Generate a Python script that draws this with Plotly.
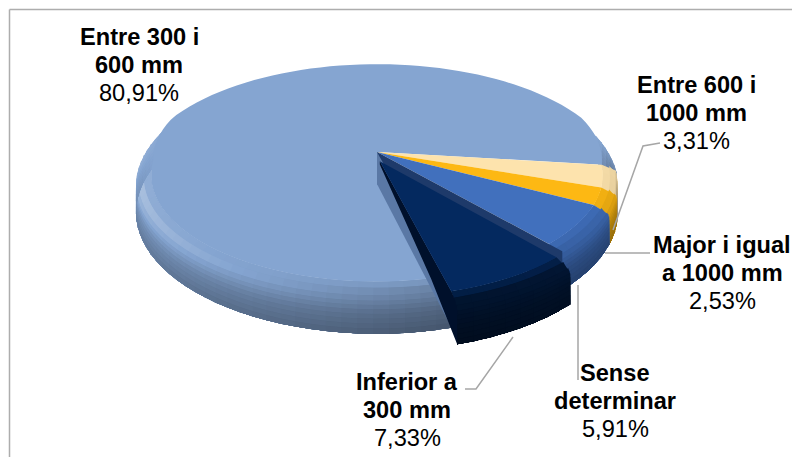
import math
import plotly.graph_objects as go

# ---- data ----
categories = ["Entre 600 i 1000 mm", "Major i igual a 1000 mm", "Sense determinar",
              "Inferior a 300 mm", "Entre 300 i 600 mm"]
values = [3.31, 2.53, 5.91, 7.33, 80.91]
label_lines = [["Entre 600 i", "1000 mm"], ["Major i igual", "a 1000 mm"], ["Sense", "determinar"],
               ["Inferior a", "300 mm"], ["Entre 300 i", "600 mm"]]
colors = ["#FDE3AD", "#FDB813", "#4170BD", "#04295F", "#85A5D1"]
explode = [0, 0, 0, 0.085, 0]
label_pos = [(696, 85), (722, 245), (615, 373), (407, 382), (139, 37)]
leaders = [[(613, 230), (643, 146), (660, 143)], [(605, 253), (650, 253)],
           [(578, 285), (578, 380)], [(513, 337), (476, 389), (465, 389)], []]
start_angle = 7.0
explode_dir = 82.0

# ---- projection of the tilted disc ----
X0, Y0, A, B, K, DEPTH = 377.0, 152.0, 234.6, 108.0, 0.23, 32.0


def proj(u, v, z=0.0):
    w = 1 - K * v
    return X0 + A * u / w, Y0 + B * v / w + DEPTH * z / w


def hex_rgb(c):
    return tuple(int(c[i:i + 2], 16) for i in (1, 3, 5))


def shade(c, f):
    r = hex_rgb(c)
    if f <= 1:
        o = [x * f for x in r]
    else:
        t = min(1, (f - 1) * 1.8)
        o = [x + (255 - x) * t for x in r]
    return "rgb(%d,%d,%d)" % tuple(int(max(0, min(255, x))) for x in o)


fig = go.Figure()


def poly(pts, color):
    fig.add_trace(go.Scatter(x=[p[0] for p in pts] + [pts[0][0]], y=[p[1] for p in pts] + [pts[0][1]],
                             mode="none", fill="toself", fillcolor=color,
                             hoverinfo="skip", showlegend=False))


BANDS = 10
R_IN = 0.94


def band_geom(t):
    r = R_IN + (1 - R_IN) * math.sin(math.pi / 2 * min(t / 0.3, 1))
    z = max(0.0, (t - 0.06) / 0.94) ** 1.15
    return r, z


def table(pts, x):
    for (x0, y0), (x1, y1) in zip(pts, pts[1:]):
        if x <= x1:
            return y0 + (y1 - y0) * (x - x0) / (x1 - x0)
    return pts[-1][1]


VERT = [(0, 1.0), (0.1, 1.12), (0.3, 1.0), (0.6, 0.84), (1.0, 0.72)]
ANG = [(-60, 1.0), (-20, 1.0), (7, 0.86), (50, 0.8), (76, 0.72), (110, 0.88), (140, 1.0), (180, 1.12),
       (220, 1.0), (300, 1.0)]
TOP_RADIUS = [(0, R_IN), (175, R_IN), (200, 1.0), (340, 1.0), (367, R_IN), (400, R_IN)]
FLATTEN = [(0, 0.0), (160, 0.0), (195, 1.0), (345, 1.0), (360, 0.0)]


def angle_light(a):
    a = a % 360
    if a > 300:
        a -= 360
    return table(ANG, a)


def draw_slice(a0, a1, c, e, direc, dark=1.0, step=3.0):
    ox, oy = e * math.cos(math.radians(direc)), e * math.sin(math.radians(direc))
    P = lambda r, a, z=0.0: proj(ox + r * math.cos(math.radians(a)), oy + r * math.sin(math.radians(a)), z)
    n = max(3, int((a1 - a0) / step))
    angs = [a0 + (a1 - a0) * i / n for i in range(n + 1)]
    for j in range(BANDS):
        t0, t1 = j / BANDS, (j + 1) / BANDS
        r0, z0 = band_geom(t0)
        tm = (t0 + t1) / 2
        w = min(1.0, tm / 0.12)
        # each band runs to the foot of the wall; the band below paints over it
        prof = [band_geom(t0 + (1 - t0) * q / 4) for q in range(5)]
        for i in range(n):
            a, b = angs[i], angs[i + 1]
            m = (a + b) / 2 % 360
            if 200 < m < 345:
                continue
            b2 = angs[min(i + 2, n)]   # overlap the next step, which paints over it
            f = angle_light(m) * table(VERT, tm)
            f += (1.03 - f) * table(FLATTEN, m)   # the wall turns away at the far sides
            f = (1 + (f - 1) * w) * (1 + (dark - 1) * min(1, tm / 0.1))
            pts = [P(r0, a, z0), P(r0, b2, z0)] + [P(r, b2, z) for r, z in prof[1:]] + \
                  [P(r, a, z) for r, z in reversed(prof[1:])]
            poly(pts, shade(c, f))
    return P, angs


angles = []
cur = start_angle
for val in values:
    angles.append((cur, cur + val * 3.6))
    cur += val * 3.6

order = [4, 0, 1, 2]
tops = []
for i in order:
    a0, a1 = angles[i]
    tops.append((i, draw_slice(a0, a1, colors[i], explode[i], (a0 + a1) / 2)))
for i, (P, angs) in tops:
    poly([P(0, 0)] + [P(table(TOP_RADIUS, a), a) for a in angs], colors[i])

# faces exposed by the pulled-out slice
a0, a1 = angles[3]
c0, s0 = math.cos(math.radians(a0)), math.sin(math.radians(a0))
c1, s1 = math.cos(math.radians(a1)), math.sin(math.radians(a1))
poly([proj(0, 0), proj(c0, s0), proj(c0, s0, 1), proj(0, 0, 1)], "#1E3A6A")
poly([proj(0, 0), proj(c1, s1), proj(c1, s1, 1), proj(0, 0, 1)], "#5A78A5")

# pulled-out slice
ox, oy = explode[3] * math.cos(math.radians(explode_dir)), explode[3] * math.sin(math.radians(explode_dir))
edge = [band_geom(q / 8) for q in range(9)]
face = [proj(ox, oy)] + [proj(ox + r * c1, oy + r * s1, z) for r, z in edge] + \
       [proj(ox + 0.72 * c1, oy + 0.72 * s1, 0.62), proj(ox, oy, 0.1)]
P, angs = draw_slice(a0, a1, colors[3], explode[3], explode_dir, dark=0.62)
poly(face, "#00102B")
poly([P(0, 0)] + [P(R_IN, a) for a in angs], colors[3])

# leader lines
for path in leaders:
    if path:
        fig.add_trace(go.Scatter(x=[p[0] for p in path], y=[p[1] for p in path], mode="lines",
                                 line=dict(color="#A6A6A6", width=1.5), hoverinfo="skip", showlegend=False))

# labels
FONT = "Liberation Sans"
for lines, (cx, cy), val in zip(label_lines, label_pos, values):
    rows = [(lines[0], True), (lines[1], True), (("%.2f%%" % val).replace(".", ","), False)]
    for k, (txt, bold) in enumerate(rows):
        fig.add_annotation(x=cx, y=cy + 28 * k, text="<b>%s</b>" % txt if bold else txt, showarrow=False,
                           xanchor="center", yanchor="middle",
                           font=dict(family=FONT, size=23.6, color="#000000"))

# frame of the chart area, running off the picture
frame = "#ADADAD"
fig.add_shape(type="line", x0=9.5, x1=9.5, y0=9.5, y1=457, line=dict(color=frame, width=1.5))
fig.add_shape(type="line", x0=9.5, x1=792, y0=9.5, y1=9.5, line=dict(color=frame, width=1.5))

fig.update_layout(width=792, height=457, margin=dict(l=0, r=0, t=0, b=0), paper_bgcolor="white",
                  plot_bgcolor="white", showlegend=False,
                  xaxis=dict(range=[0, 792], visible=False, fixedrange=True),
                  yaxis=dict(range=[457, 0], visible=False, fixedrange=True))
fig.write_html("out.html", config={"displayModeBar": False},
               post_script="document.body.style.margin='0';document.body.style.overflow='hidden';")
